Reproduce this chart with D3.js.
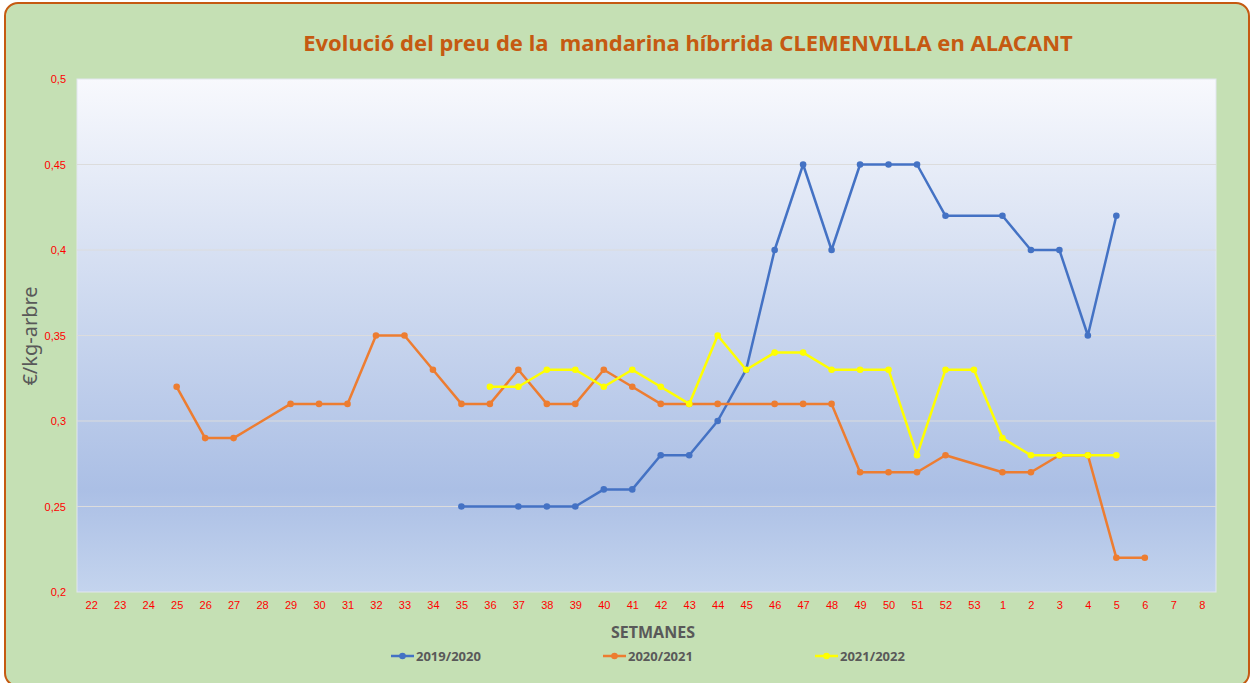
<!DOCTYPE html>
<html>
<head>
<meta charset="utf-8">
<script src="https://cdn.jsdelivr.net/npm/d3@7"></script>
<style>
  body { margin: 0; background: #fff; }
  svg { display: block; font-family: "Noto Sans", "DejaVu Sans", sans-serif; }
</style>
</head>
<body>
<div class="graph"></div>
<script>
var weeks = ['22','23','24','25','26','27','28','29','30','31','32','33','34','35','36','37','38','39','40','41',
  '42','43','44','45','46','47','48','49','50','51','52','53','1','2','3','4','5','6','7','8'];

var seriesNames = ['2019/2020', '2020/2021', '2021/2022'];

var s2019 = [null,null,null,null,null,null,null,null,null,null,null,null,null,0.25,null,0.25,0.25,0.25,0.26,0.26,
  0.28,0.28,0.30,0.33,0.40,0.45,0.40,0.45,0.45,0.45,0.42,null,0.42,0.40,0.40,0.35,0.42,null,null,null];

var s2020 = [null,null,null,0.32,0.29,0.29,null,0.31,0.31,0.31,0.35,0.35,0.33,0.31,0.31,0.33,0.31,0.31,0.33,0.32,
  0.31,0.31,0.31,null,0.31,0.31,0.31,0.27,0.27,0.27,0.28,null,0.27,0.27,0.28,0.28,0.22,0.22,null,null];

var s2021 = [null,null,null,null,null,null,null,null,null,null,null,null,null,null,0.32,0.32,0.33,0.33,0.32,0.33,
  0.32,0.31,0.35,0.33,0.34,0.34,0.33,0.33,0.33,0.28,0.33,0.33,0.29,0.28,0.28,0.28,0.28,null,null,null];

var yTicks = [0.2, 0.25, 0.3, 0.35, 0.4, 0.45, 0.5];

var colors = ['#4472C4', '#ED7D31', '#FFFF00'];

var W = 1253, H = 683;
var plot = { left: 77, top: 79, right: 1216, bottom: 592 };

var svg = d3.select('.graph')
  .append('svg')
  .attr('width', W)
  .attr('height', H);

// background panel (bottom edge runs just off the picture)
svg.append('rect')
  .attr('x', 5).attr('y', 3)
  .attr('width', 1244).attr('height', 683)
  .attr('rx', 13).attr('ry', 13)
  .attr('fill', '#C5E0B4')
  .attr('stroke', '#C55A11')
  .attr('stroke-width', 2);

var defs = svg.append('defs');
var grad = defs.append('linearGradient')
  .attr('id', 'plotbg')
  .attr('x1', 0).attr('y1', 0).attr('x2', 0).attr('y2', 1);
[['0%', '#F8F9FD'], ['45%', '#CCD8EF'], ['80%', '#ABBFE5'], ['100%', '#C4D4EE']].forEach(function (s) {
  grad.append('stop').attr('offset', s[0]).attr('stop-color', s[1]);
});

svg.append('rect')
  .attr('x', plot.left).attr('y', plot.top)
  .attr('width', plot.right - plot.left)
  .attr('height', plot.bottom - plot.top)
  .attr('fill', 'url(#plotbg)')
  .attr('stroke', '#E2E6EE')
  .attr('stroke-width', 1);

var x = d3.scalePoint()
  .domain(weeks)
  .range([plot.left, plot.right])
  .padding(0.5);

var y = d3.scaleLinear()
  .domain([0.2, 0.5])
  .range([plot.bottom, plot.top]);

// gridlines
svg.append('g')
  .selectAll('line')
  .data(yTicks.slice(1, -1))
  .enter()
  .append('line')
  .attr('x1', plot.left).attr('x2', plot.right)
  .attr('y1', function (d) { return y(d); })
  .attr('y2', function (d) { return y(d); })
  .attr('stroke', '#DCDCDC')
  .attr('stroke-width', 1);

// y axis labels
var yAxis = d3.axisLeft(y)
  .tickValues(yTicks)
  .tickSize(0)
  .tickPadding(11)
  .tickFormat(function (d) { return String(+d.toFixed(2)).replace('.', ','); });
var yg = svg.append('g')
  .attr('transform', 'translate(' + plot.left + ',0)')
  .call(yAxis);
yg.select('.domain').remove();
yg.selectAll('text')
  .attr('fill', '#FF0000')
  .style('font-size', '11px');

// x axis labels
var xAxis = d3.axisBottom(x)
  .tickSize(0)
  .tickPadding(9);
var xg = svg.append('g')
  .attr('transform', 'translate(0,' + plot.bottom + ')')
  .call(xAxis);
xg.select('.domain').remove();
xg.selectAll('text')
  .attr('fill', '#FF0000')
  .style('font-size', '11px');

// lines, gaps are bridged like in the original
var allSeries = [s2019, s2020, s2021];
var line = d3.line()
  .x(function (d) { return x(d.week); })
  .y(function (d) { return y(d.value); });

allSeries.forEach(function (values, i) {
  var pts = values.map(function (v, j) { return { week: weeks[j], value: v }; })
    .filter(function (d) { return d.value !== null; });
  var g = svg.append('g').attr('class', 'series');
  g.append('path')
    .datum(pts)
    .attr('d', line)
    .attr('fill', 'none')
    .attr('stroke', colors[i])
    .attr('stroke-width', 2.5)
    .attr('stroke-linejoin', 'round');
  g.selectAll('circle')
    .data(pts)
    .enter()
    .append('circle')
    .attr('cx', function (d) { return x(d.week); })
    .attr('cy', function (d) { return y(d.value); })
    .attr('r', 3.3)
    .attr('fill', colors[i]);
});

// title
svg.append('text')
  .attr('x', 688).attr('y', 51)
  .attr('text-anchor', 'middle')
  .attr('fill', '#C55A11')
  .style('font-size', '22px')
  .style('font-weight', 'bold')
  .style('white-space', 'pre')
  .text('Evolució del preu de la  mandarina híbrrida CLEMENVILLA en ALACANT');

// axis titles
svg.append('text')
  .attr('transform', 'translate(37,336) rotate(-90)')
  .attr('text-anchor', 'middle')
  .attr('fill', '#595959')
  .style('font-size', '20px')
  .text('€/kg-arbre');

svg.append('text')
  .attr('x', 653).attr('y', 638)
  .attr('text-anchor', 'middle')
  .attr('fill', '#595959')
  .style('font-size', '16px')
  .style('font-weight', 'bold')
  .text('SETMANES');

// legend
var legend = svg.append('g').attr('class', 'legend')
  .selectAll('g')
  .data(seriesNames)
  .enter()
  .append('g')
  .attr('transform', function (d, i) { return 'translate(' + (391 + i * 212) + ',656)'; });
legend.append('line')
  .attr('x1', 0).attr('x2', 23)
  .attr('stroke', function (d, i) { return colors[i]; })
  .attr('stroke-width', 2.5);
legend.append('circle')
  .attr('cx', 11.5).attr('r', 3.3)
  .attr('fill', function (d, i) { return colors[i]; });
legend.append('text')
  .attr('x', 25).attr('dy', '0.35em')
  .attr('fill', '#595959')
  .style('font-size', '13px')
  .style('font-weight', 'bold')
  .text(function (d) { return d; });
</script>
</body>
</html>
